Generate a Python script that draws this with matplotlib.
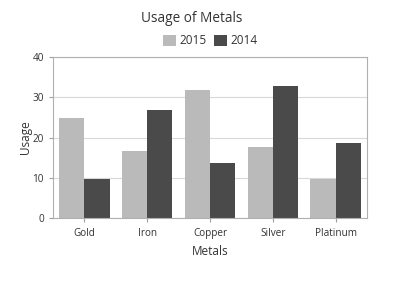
import matplotlib

matplotlib.use("Agg")
import matplotlib.pyplot as plt
import numpy as np

metals = ["Gold", "Iron", "Copper", "Silver", "Platinum"]
usage_2015 = [24.8, 16.7, 31.7, 17.6, 9.8]
usage_2014 = [9.8, 26.8, 13.7, 32.8, 18.7]
yticks = [0, 10, 20, 30, 40]

plt.rcParams["font.family"] = ["Open Sans", "DejaVu Sans"]

fig = plt.figure(figsize=(4.0, 2.87), dpi=100)
ax = fig.add_axes([0.1325, 0.2387, 0.785, 0.5644])

x = np.arange(len(metals))
w = 0.4
ax.bar(x - w / 2, usage_2015, width=w, color="#bababa", label="2015", zorder=2)
ax.bar(x + w / 2, usage_2014, width=w, color="#4a4a4a", label="2014", zorder=2)

ax.set_xlim(-0.5, len(metals) - 0.5)
ax.set_ylim(0, 40)
ax.set_yticks(yticks)
ax.set_xticks(x)
ax.set_xticklabels(metals)
ax.tick_params(axis="both", labelsize=7.2, colors="#a0a0a0", labelcolor="#333333", length=3, width=0.8)
ax.grid(axis="y", color="#d9d9d9", linewidth=0.8, zorder=0)
for s in ax.spines.values():
    s.set_color("#b0b0b0")
    s.set_linewidth(0.8)

ax.set_xlabel("Metals", fontsize=8.5, color="#333333", labelpad=5)
ax.set_ylabel("Usage", fontsize=8.5, color="#333333", labelpad=0)

fig.text(192 / 400, 1 - 18 / 287, "Usage of Metals", ha="center", va="center", fontsize=9.8, color="#333333")
fig.legend(loc="center", bbox_to_anchor=(210 / 400, 1 - 41 / 287), ncol=2, frameon=False,
           fontsize=8.5, handlelength=1.1, handleheight=1.1, handletextpad=0.3, columnspacing=0.6,
           labelcolor="#333333")

fig.savefig("out.png", dpi=100)
